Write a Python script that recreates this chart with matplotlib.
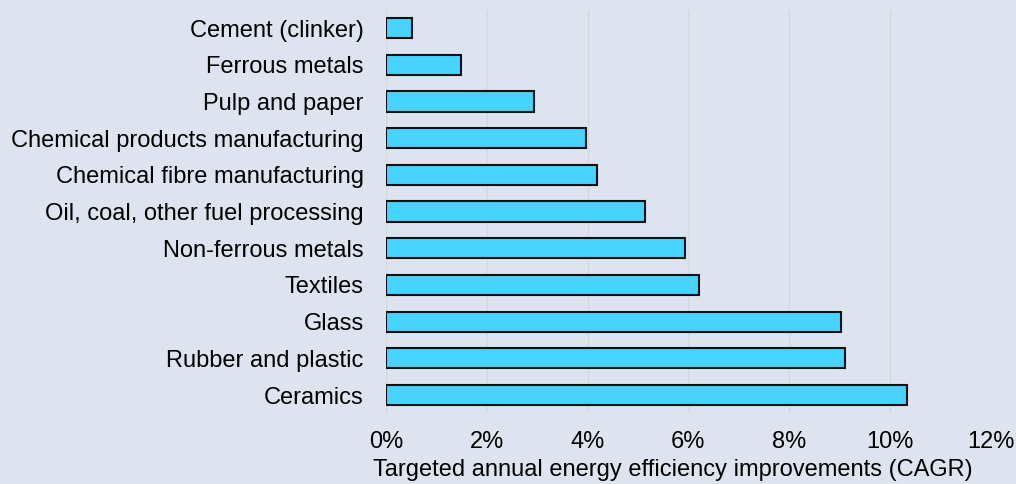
import matplotlib.pyplot as plt
from matplotlib.ticker import FuncFormatter

plt.rcParams['font.family'] = ['Liberation Sans', 'DejaVu Sans']

sectors = ['Cement (clinker)', 'Ferrous metals', 'Pulp and paper',
           'Chemical products manufacturing', 'Chemical fibre manufacturing',
           'Oil, coal, other fuel processing', 'Non-ferrous metals', 'Textiles',
           'Glass', 'Rubber and plastic', 'Ceramics']
cagr = [0.52, 1.48, 2.93, 3.96, 4.19, 5.13, 5.94, 6.22, 9.03, 9.10, 10.34]

bg = '#dde4f0'
fig = plt.figure(figsize=(10.16, 4.84), dpi=100, facecolor=bg)
ax = fig.add_axes([0.380, 0.149, 0.595, 0.830], facecolor=bg)

ax.barh(range(len(sectors)), cagr, height=0.55, color='#48d2ff',
        edgecolor='#111111', linewidth=1.5, zorder=3)

ax.set_xlim(0, 12)
ax.set_ylim(len(sectors) - 0.54, -0.49)
ax.set_xticks(range(0, 13, 2))
ax.xaxis.set_major_formatter(FuncFormatter(lambda v, p: f'{v:.0f}%'))
ax.set_yticks(range(len(sectors)))
ax.set_yticklabels(sectors)
ax.grid(axis='x', color='#d4d8de', linewidth=1, zorder=0)
ax.tick_params(length=0, labelsize=17, colors='black')
ax.tick_params(axis='x', pad=14)
ax.tick_params(axis='y', pad=16)
for s in ax.spines.values():
    s.set_visible(False)
ax.set_xlabel('Targeted annual energy efficiency improvements (CAGR)', fontsize=17)
ax.xaxis.set_label_coords(0.4735, -0.118)
ax.xaxis.label.set_va('top')

fig.savefig('out.png', dpi=100, facecolor=bg)
